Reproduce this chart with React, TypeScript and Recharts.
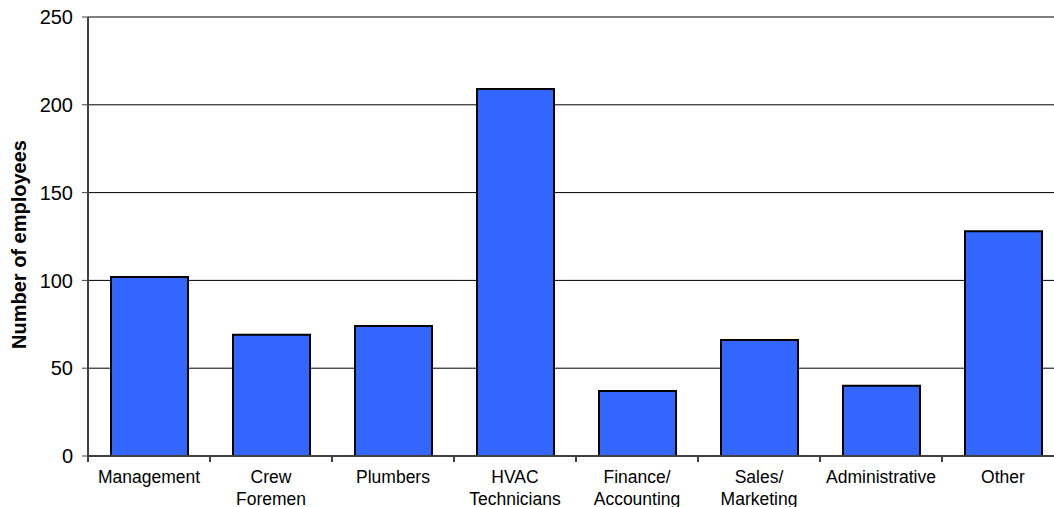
// Bar chart of employee counts by job category, Excel-like styling
import React from 'react';
import { BarChart, Bar, XAxis, YAxis, CartesianGrid, Label } from 'recharts';

const categories = ['Management', 'Crew Foremen', 'Plumbers', 'HVAC Technicians', 'Finance/Accounting', 'Sales/Marketing', 'Administrative', 'Other'];
const employees = [102, 69, 74, 209, 37, 66, 40, 128];
const yTicks = [0, 50, 100, 150, 200, 250];

const data = categories.map((c, i) => ({ name: c, value: employees[i] }));

const FONT = '"Liberation Sans", Arial, sans-serif';

// split "Crew Foremen" -> ["Crew","Foremen"], "Finance/Accounting" -> ["Finance/","Accounting"]
function splitLabel(s: string) {
  if (s.includes('/')) {
    const i = s.indexOf('/');
    return [s.slice(0, i + 1), s.slice(i + 1)];
  }
  return s.split(' ');
}

const XTick = (props: any) => {
  const { x, y, payload, width } = props;
  const band = width / categories.length;
  const lines = splitLabel(payload.value);
  return (
    <g>
      <line x1={x - band / 2} x2={x - band / 2} y1={y - 8} y2={y - 2} stroke="#404040" strokeWidth={2} />
      {payload.index === categories.length - 1 && (
        <line x1={x + band / 2} x2={x + band / 2} y1={y - 8} y2={y - 2} stroke="#404040" strokeWidth={2} />
      )}
      <text x={x} y={y} textAnchor="middle" fontFamily={FONT} fontSize={17.5} fill="#000">
        {lines.map((l, i) => (
          <tspan key={i} x={x} dy={i === 0 ? 19 : 22}>{l}</tspan>
        ))}
      </text>
    </g>
  );
};

const YTitle = (props: any) => {
  const vb = props.viewBox;
  const cy = vb.y + vb.height / 2 + 8;
  return (
    <text x={19} y={cy} transform={`rotate(-90, 19, ${cy})`} textAnchor="middle" dominantBaseline="central"
      fontFamily={FONT} fontSize={20} fontWeight="bold" fill="#000">
      Number of employees
    </text>
  );
};

export default function App() {
  return (
    <div style={{ position: 'absolute', left: 0, top: 0, width: 1054, height: 507, overflow: 'hidden', background: '#fff' }}>
      <BarChart width={1070} height={530} data={data} margin={{ top: 17, right: 6, left: 0, bottom: 14 }} barSize={77}>
        <CartesianGrid vertical={false} stroke="#000" strokeWidth={1} />
        <XAxis dataKey="name" height={60} interval={0} tickLine={false} axisLine={{ stroke: '#404040', strokeWidth: 2 }} tick={<XTick />} />
        <YAxis width={88} domain={[0, 250]} ticks={yTicks} interval={0} tickSize={6} tickMargin={9}
          axisLine={{ stroke: '#404040', strokeWidth: 2 }} tickLine={{ stroke: '#404040', strokeWidth: 1 }}
          tick={{ fontFamily: FONT, fontSize: 20, fill: '#000' }}>
          <Label content={<YTitle />} />
        </YAxis>
        <Bar dataKey="value" fill="#3366FF" stroke="#000" strokeWidth={2} isAnimationActive={false} />
      </BarChart>
    </div>
  );
}
